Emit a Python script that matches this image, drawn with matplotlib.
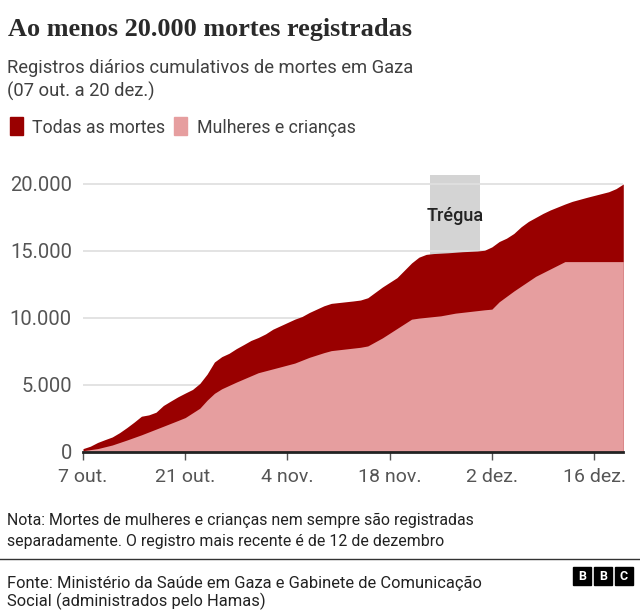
import pandas as pd
import matplotlib.pyplot as plt
from matplotlib.patches import Rectangle

plt.rcParams['font.family'] = ['Roboto', 'DejaVu Sans']

# cumulative deaths
total_dates = ['2023-10-07', '2023-10-08', '2023-10-09', '2023-10-10', '2023-10-11', '2023-10-12',
               '2023-10-13', '2023-10-14', '2023-10-15', '2023-10-16', '2023-10-17', '2023-10-18',
               '2023-10-19', '2023-10-20', '2023-10-21', '2023-10-22', '2023-10-23', '2023-10-24',
               '2023-10-25', '2023-10-26', '2023-10-27', '2023-10-28', '2023-10-29', '2023-10-30',
               '2023-10-31', '2023-11-01', '2023-11-02', '2023-11-03', '2023-11-04', '2023-11-05',
               '2023-11-06', '2023-11-07', '2023-11-08', '2023-11-09', '2023-11-10', '2023-11-13',
               '2023-11-14', '2023-11-15', '2023-11-17', '2023-11-19', '2023-11-21', '2023-11-22',
               '2023-11-23', '2023-11-24', '2023-11-26', '2023-11-28', '2023-11-30', '2023-12-01',
               '2023-12-02', '2023-12-03', '2023-12-04', '2023-12-05', '2023-12-06', '2023-12-07',
               '2023-12-09', '2023-12-10', '2023-12-12', '2023-12-13', '2023-12-15', '2023-12-18',
               '2023-12-19', '2023-12-20']
total_deaths = [230, 410, 690, 900, 1100, 1420,
                1800, 2210, 2650, 2750, 2950, 3450,
                3780, 4100, 4380, 4650, 5100, 5800,
                6700, 7100, 7350, 7700, 8000, 8310,
                8530, 8800, 9150, 9400, 9650, 9900,
                10100, 10400, 10650, 10900, 11080, 11260,
                11330, 11500, 12300, 13000, 14100, 14530,
                14740, 14800, 14860, 14940, 14990, 15050,
                15300, 15700, 15950, 16300, 16800, 17200,
                17800, 18060, 18500, 18700, 19000, 19420,
                19650, 20000]

wc_dates = ['2023-10-07', '2023-10-09', '2023-10-11', '2023-10-13', '2023-10-15', '2023-10-18',
            '2023-10-20', '2023-10-21', '2023-10-22', '2023-10-23', '2023-10-24', '2023-10-25',
            '2023-10-26', '2023-10-28', '2023-10-31', '2023-11-03', '2023-11-05', '2023-11-07',
            '2023-11-09', '2023-11-10', '2023-11-14', '2023-11-15', '2023-11-17', '2023-11-19',
            '2023-11-21', '2023-11-22', '2023-11-25', '2023-11-27', '2023-12-01', '2023-12-02',
            '2023-12-03', '2023-12-05', '2023-12-08', '2023-12-12', '2023-12-20']
wc_deaths = [80, 230, 500, 870, 1260, 1900,
             2330, 2550, 2900, 3250, 3850, 4360,
             4700, 5200, 5900, 6330, 6620, 7050,
             7400, 7550, 7800, 7900, 8500, 9200,
             9900, 9980, 10150, 10350, 10600, 10650,
             11200, 12000, 13100, 14200, 14200]

truce_start = '2023-11-23 12:00'
truce_end = '2023-11-30 10:00'

tick_dates = ['2023-10-07', '2023-10-21', '2023-11-04', '2023-11-18', '2023-12-02', '2023-12-16']
tick_labels = ['7 out.', '21 out.', '4 nov.', '18 nov.', '2 dez.', '16 dez.']
y_ticks = [0, 5000, 10000, 15000, 20000]
y_labels = ['0', '5.000', '10.000', '15.000', '20.000']

W, H = 640, 610


def fx(x):
    return x / W


def fy(y):
    return 1 - y / H


fig = plt.figure(figsize=(6.4, 6.1), dpi=100)
renderer = fig.canvas.get_renderer()


def fit(txt, width_px, others=(), boost=1.0):
    # scale the font so the line is about as wide as in the reference
    w = txt.get_window_extent(renderer=renderer).width
    size = txt.get_fontsize() * width_px / w * boost
    txt.set_fontsize(size)
    for o in others:
        o.set_fontsize(size)


ax = fig.add_axes([fx(83), fy(451.7), (623.3 - 83) / W, (451.7 - 174.6) / H])

td = pd.to_datetime(total_dates)
wd = pd.to_datetime(wc_dates)

ax.axvspan(pd.Timestamp(truce_start), pd.Timestamp(truce_end), color='#d4d4d4', lw=0, zorder=0)
for v in y_ticks[1:]:
    ax.axhline(v, color='#e0e0e0', lw=1.3, zorder=0.5)
ax.fill_between(td, 0, total_deaths, color='#990000', lw=0, zorder=2)
ax.fill_between(wd, 0, wc_deaths, color='#e69e9f', lw=0, zorder=3)

tr = ax.text(pd.Timestamp('2023-11-27 00:00'), 17600, 'Trégua', ha='center', va='center',
             fontsize=13, color='#222222', fontweight='medium', zorder=4)
fit(tr, 57)

ax.set_xlim(td[0], td[-1])
ax.set_ylim(0, 20700)
ax.set_xticks(pd.to_datetime(tick_dates))
ax.set_xticklabels(tick_labels)
ax.set_yticks(y_ticks)
ax.set_yticklabels(y_labels)
ax.tick_params(axis='y', length=0, pad=8, labelsize=14.5, labelcolor='#555555')
ax.tick_params(axis='x', length=6, width=1, color='#555555', pad=6, labelsize=14,
               labelcolor='#555555')
for s in ['top', 'right', 'left']:
    ax.spines[s].set_visible(False)
ax.spines['bottom'].set_color('#222222')
ax.spines['bottom'].set_linewidth(2)
ax.spines['bottom'].set_zorder(5)

# header
t = fig.text(fx(8), fy(36), 'Ao menos 20.000 mortes registradas', fontsize=20,
             family='Liberation Serif', fontweight='bold', color='#2a2a2a', va='baseline')
fit(t, 404)
s1 = fig.text(fx(7), fy(72.7), 'Registros diários cumulativos de mortes em Gaza', fontsize=14,
              color='#404040', va='baseline')
s2 = fig.text(fx(7), fy(97), '(07 out. a 20 dez.)', fontsize=14, color='#404040', va='baseline')
fit(s1, 407, [s2])

# legend
fig.patches.append(Rectangle((fx(10), fy(135)), 13 / W, 18 / H, transform=fig.transFigure,
                             color='#990000'))
l1 = fig.text(fx(32), fy(132.7), 'Todas as mortes', fontsize=14, color='#404040', va='baseline')
fig.patches.append(Rectangle((fx(174), fy(135)), 13 / W, 18 / H, transform=fig.transFigure,
                             color='#e69e9f'))
l2 = fig.text(fx(197), fy(132.7), 'Mulheres e crianças', fontsize=14, color='#404040',
              va='baseline')
fit(l2, 148, [l1], boost=1.08)

# notes
n1 = fig.text(fx(7), fy(525), 'Nota: Mortes de mulheres e crianças nem sempre são registradas',
              fontsize=12, color='#222222', va='baseline')
n2 = fig.text(fx(7), fy(546), 'separadamente. O registro mais recente é de 12 de dezembro',
              fontsize=12, color='#222222', va='baseline')
fit(n1, 440, [n2], boost=1.06)
fig.add_artist(plt.Line2D([0, 1], [fy(559), fy(559)], transform=fig.transFigure,
                          color='#333333', lw=1))
f1 = fig.text(fx(7), fy(588), 'Fonte: Ministério da Saúde em Gaza e Gabinete de Comunicação',
              fontsize=11, color='#222222', va='baseline')
f2 = fig.text(fx(7), fy(606), 'Social (administrados pelo Hamas)',
              fontsize=11, color='#222222', va='baseline')
fit(f1, 473, [f2])

# BBC blocks
for i, letter in enumerate('BBC'):
    x0 = 573 + i * 21
    fig.patches.append(Rectangle((fx(x0), fy(585)), 18 / W, 18 / H, transform=fig.transFigure,
                                 color='black'))
    fig.text(fx(x0 + 9), fy(576), letter, fontsize=9, fontweight='bold', color='white',
             ha='center', va='center')

fig.savefig('out.png', dpi=100)
